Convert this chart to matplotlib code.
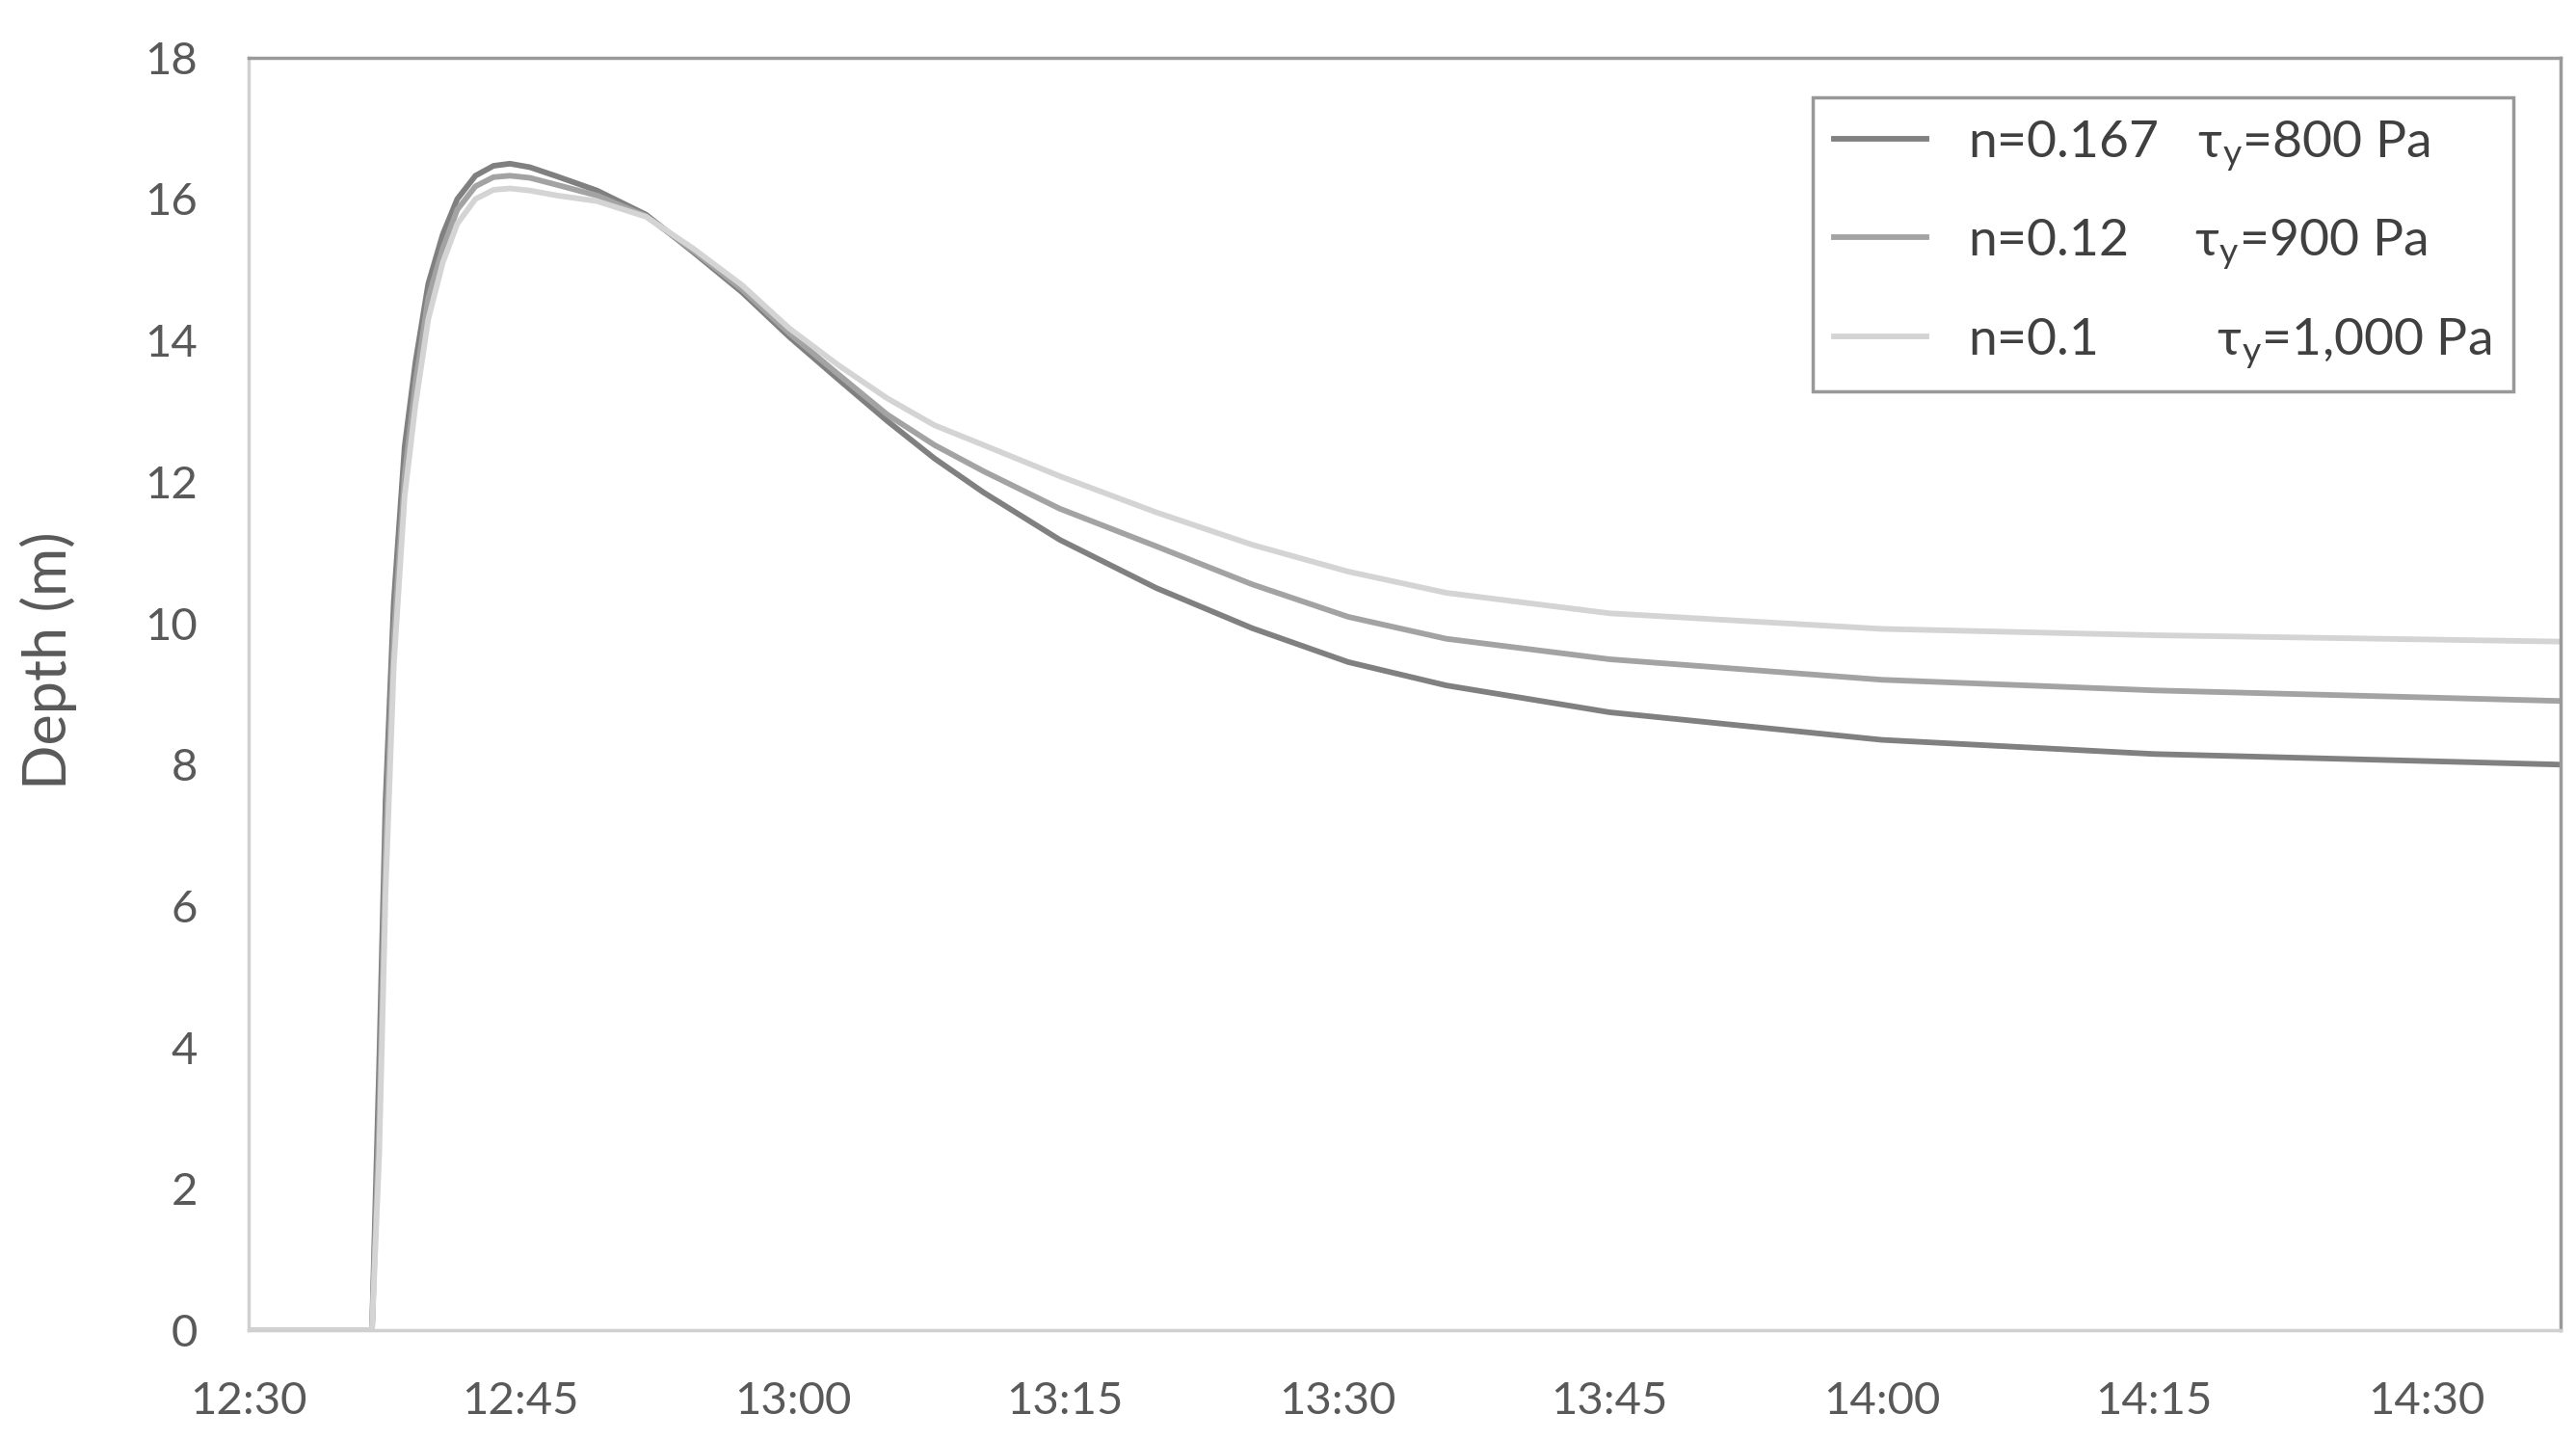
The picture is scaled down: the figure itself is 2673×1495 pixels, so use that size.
import numpy as np
import matplotlib
matplotlib.use('Agg')
import matplotlib.pyplot as plt

plt.rcParams['font.family'] = ['Lato', 'DejaVu Sans']
plt.rcParams['mathtext.fontset'] = 'custom'
plt.rcParams['mathtext.rm'] = 'Lato'
plt.rcParams['mathtext.it'] = 'Lato:italic'

# 时间 (min after 12:30)
t_min = [0, 6.8, 7.2, 7.55, 8.0, 8.6, 9.2, 9.9, 10.7, 11.5, 12.5, 13.5, 14.4,
         15.5, 17.0, 19.2, 21.9, 24.5, 27.2, 29.8, 32.5, 35.2, 37.8, 40.5,
         44.7, 50.0, 55.3, 60.6, 66.0, 75, 90, 105, 120, 127.4]

depth_n0167 = [0, 0, 3.8, 7.5, 10.3, 12.5, 13.7, 14.8, 15.5, 16.0, 16.33, 16.47,
               16.5, 16.45, 16.32, 16.12, 15.78, 15.25, 14.68, 14.05, 13.45,
               12.86, 12.33, 11.85, 11.18, 10.5, 9.93, 9.45, 9.12, 8.74, 8.35,
               8.15, 8.05, 8.0]
depth_n012 = [0, 0, 3.0, 6.8, 9.8, 12.1, 13.4, 14.6, 15.3, 15.85, 16.18, 16.31,
              16.33, 16.3, 16.2, 16.05, 15.76, 15.27, 14.72, 14.1, 13.52, 12.95,
              12.52, 12.15, 11.62, 11.09, 10.55, 10.09, 9.78, 9.49, 9.2, 9.05,
              8.95, 8.9]
depth_n01 = [0, 0, 2.5, 6.2, 9.4, 11.8, 13.1, 14.3, 15.1, 15.65, 16.0, 16.13,
             16.15, 16.12, 16.05, 15.97, 15.75, 15.3, 14.78, 14.17, 13.65, 13.18,
             12.8, 12.52, 12.08, 11.57, 11.11, 10.73, 10.43, 10.14, 9.92, 9.83,
             9.77, 9.74]

n_labels = ['n=0.167', 'n=0.12', 'n=0.1']
tau_labels = ['τ$_\\mathregular{y}$=800 Pa', 'τ$_\\mathregular{y}$=900 Pa',
              'τ$_\\mathregular{y}$=1,000 Pa']
colors = ['#808080', '#a3a3a3', '#d4d4d4']

x_ticklabels = ['12:30', '12:45', '13:00', '13:15', '13:30', '13:45',
                '14:00', '14:15', '14:30']
y_ticks = list(range(0, 19, 2))

LEG_FS = 38.5

fig = plt.figure(figsize=(26.73, 14.95), dpi=100)
ax = fig.add_axes([0.0965, 0.0769, 0.8975, 0.8831])

# 图例中 τ 列对齐：按实际文字宽度补空格
renderer = fig.canvas.get_renderer()


def text_w(s):
    t = fig.text(0, 0, s, fontsize=LEG_FS)
    w = t.get_window_extent(renderer).width
    t.remove()
    return w


space_w = (text_w('a' + ' ' * 20 + 'a') - text_w('aa')) / 20
tau_offset = [242, 242, 256]   # px from start of n-text
labels = []
for n, tau, off in zip(n_labels, tau_labels, tau_offset):
    k = max(1, int(round((off - text_w(n)) / space_w)))
    labels.append(n + ' ' * k + tau)

series = [depth_n0167, depth_n012, depth_n01]
for vals, lab, c in zip(series, labels, colors):
    ax.plot(t_min, vals, color=c, lw=4.2, label=lab, solid_joinstyle='round')

ax.set_xlim(0, 127.4)
ax.set_ylim(0, 18)
ax.set_xticks([15 * i for i in range(len(x_ticklabels))])
ax.set_xticklabels(x_ticklabels)
ax.set_yticks(y_ticks)
ax.tick_params(length=0, labelsize=34, labelcolor='#595959')
ax.tick_params(axis='y', pad=38)
ax.tick_params(axis='x', pad=38)
ax.set_ylabel('Depth (m)', fontsize=44, color='#595959')
ax.yaxis.set_label_coords(-0.074, 0.526)

for side in ['left', 'bottom']:
    ax.spines[side].set_color('#d0d0d0')
    ax.spines[side].set_linewidth(2.5)
for side in ['top', 'right']:
    ax.spines[side].set_color('#9a9a9a')
    ax.spines[side].set_linewidth(2.5)

leg = ax.legend(loc='upper right', bbox_to_anchor=(0.9795, 0.969),
                fontsize=LEG_FS, frameon=True, fancybox=False, handlelength=1.8,
                handletextpad=0.8, labelspacing=0.87, borderpad=0.42,
                borderaxespad=0)
leg.get_frame().set_edgecolor('#7f7f7f')
leg.get_frame().set_linewidth(2.5)
for txt in leg.get_texts():
    txt.set_color('#404040')

fig.savefig('out.png', dpi=100)
